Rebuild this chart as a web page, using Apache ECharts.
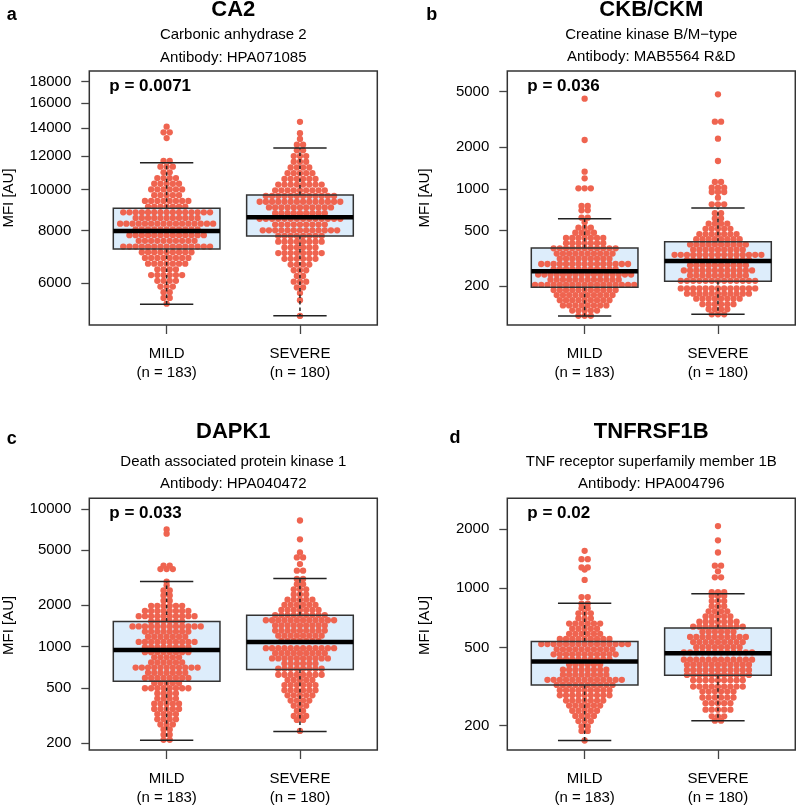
<!DOCTYPE html>
<html><head><meta charset="utf-8">
<script src="https://cdn.jsdelivr.net/npm/echarts@6/dist/echarts.min.js"></script>
<style>html,body{margin:0;padding:0;background:#fff}#c{width:796px;height:807px}</style>
</head><body><div id="c"></div>
<script>
// ---------- data ----------
const GROUPS = ['MILD', 'SEVERE'];
const GROUP_N = [183, 180];

// tick labels (MFI, AU)
const CA2_TICKS = [6000, 8000, 10000, 12000, 14000, 16000, 18000];
const CKB_TICKS = [200, 500, 1000, 2000, 5000];
const DAPK1_TICKS = [200, 500, 1000, 2000, 5000, 10000];
const TNF_TICKS = [200, 500, 1000, 2000];

// box stats: [lower whisker, Q1, median, Q3, upper whisker]
const CA2_BOX_MILD = [5354, 7234, 7980, 9030, 11576];
const CA2_BOX_SEVERE = [5030, 7767, 8600, 9710, 12545];
const CKB_BOX_MILD = [121.7, 196, 255, 375, 610];
const CKB_BOX_SEVERE = [125, 216, 303, 417, 728];
const DAPK1_BOX_MILD = [209, 559, 945, 1519, 2967];
const DAPK1_BOX_SEVERE = [241, 682, 1079, 1689, 3118];
const TNF_BOX_MILD = [168, 322, 424, 536, 838];
const TNF_BOX_SEVERE = [212, 361, 467, 627, 936];

// beeswarm rows: [value, number of points in the row]
const CA2_MILD = [[5370,1],[5540,2],[5715,2],[5895,3],[6082,4],[6274,6],[6472,4],[6677,7],[6888,8],[7106,9],
  [7330,15],[7562,10],[7801,13],[8048,11],[8302,16],[8564,11],[8835,15],
  [9114,7],[9402,8],[9699,5],[10006,6],[10322,5],[10648,4],[10985,2],[11332,3],[11690,2],[13240,1],[13659,2],[14091,1]];
const CA2_SEVERE = [[5022,1],[5470,1],[5688,1],[5868,2],[6053,3],[6245,2],[6442,3],[6646,4],[6856,6],[7073,8],[7296,6],[7527,8],
  [7765,8],[8010,13],[8264,9],[8525,14],[8794,9],[9072,11],[9359,14],[9655,12],
  [9960,9],[10275,8],[10600,6],[10935,5],[11280,4],[11637,3],[12005,3],[12384,2],[12776,2],[13180,1],[13596,1],[14469,1]];
const CKB_MILD = [[122,3],[133,5],[145,8],[158,9],[172,10],[187,11],
  [204,17],[222,12],[242,16],
  [264,11],[288,15],[314,9],[342,10],
  [373,11],[406,7],[443,7],[483,4],[526,3],[574,1],[620,2],[701,2],[753,2],[1009,3],[1191,1],[1329,1],[2246,1],[4453,1]];
const CKB_SEVERE = [[125,3],[136,4],[148,6],[162,8],[176,11],[192,13],
  [218,13],[238,10],[259,12],[282,10],
  [308,11],[335,15],[365,9],[398,10],
  [434,8],[473,7],[516,5],[562,4],[613,2],[668,2],[774,3],[864,1],[949,3],[1020,3],[1120,2],[1586,1],[2296,1],[3042,2],[4789,1]];
const DAPK1_MILD = [[210,2],[229,2],[250,2],[272,3],[297,4],[323,4],[352,5],[384,5],[419,4],[456,4],[498,8],[543,5],
  [592,8],[645,7],[703,11],[766,6],[835,5],[910,8],
  [992,8],[1081,10],[1178,7],[1284,8],[1400,12],
  [1526,6],[1663,10],[1813,8],[1976,6],[2154,2],[2348,2],[2559,2],[2790,1],[2967,1],[3656,3],[3866,2],[6607,1],[7096,1]];
const DAPK1_SEVERE = [[244,1],[293,2],[313,3],[341,2],[372,3],[405,4],[442,5],[482,6],[525,6],[572,5],[624,8],
  [690,8],[752,6],[820,10],[894,9],[974,12],
  [1100,7],[1199,8],[1307,9],[1424,9],[1553,12],
  [1693,9],[1845,7],[2011,6],[2192,5],[2390,3],[2605,3],[2839,2],[3095,2],[3560,2],[3972,1],[4439,2],[4823,1],[6012,1],[8237,1]];
const TNF_MILD = [[168,1],[188,2],[198,2],[211,3],[224,4],[238,5],[253,6],[268,7],[285,9],[303,9],
  [322,10],[342,13],[363,8],[385,8],[409,6],
  [434,9],[461,11],[489,10],[520,15],
  [552,9],[586,6],[622,5],[661,6],[702,3],[745,3],[791,2],[834,2],[901,2],[1102,1],[1245,1],[1276,2],[1405,2],[1549,1]];
const TNF_SEVERE = [[212,2],[223,3],[241,5],[260,5],[278,6],[298,6],[316,9],[340,9],
  [362,11],[384,11],[408,11],[433,12],
  [472,12],[501,8],[532,9],[565,10],[600,6],
  [637,9],[676,7],[718,5],[763,4],[810,3],[860,3],[913,3],[955,3],[1136,2],[1218,1],[1302,2],[1519,1],[1752,1],[2071,1]];

// ---------- panel setup ----------
const FONT = "'Liberation Sans', Arial, Helvetica, sans-serif";
const panels = [
  {letter:'a', title:'CA2', sub:'Carbonic anhydrase 2', ab:'Antibody: HPA071085', p:'p = 0.0071',
   ticks:CA2_TICKS, boxes:[CA2_BOX_MILD, CA2_BOX_SEVERE], rows:[CA2_MILD, CA2_SEVERE], yr:[4780, 19085],
   g:{left:89.3, top:71}, L:{lx:11.7, ly:15, ty:9.5, sy:35, ay:58.3, px:109.3, py:86, mx:8.5}},
  {letter:'b', title:'CKB/CKM', sub:'Creatine kinase B/M\u2212type', ab:'Antibody: MAB5564 R&D', p:'p = 0.036',
   ticks:CKB_TICKS, boxes:[CKB_BOX_MILD, CKB_BOX_SEVERE], rows:[CKB_MILD, CKB_SEVERE], yr:[104.8, 7046],
   g:{left:507.3, top:71}, L:{lx:431.7, ly:15, ty:10, sy:35, ay:57.3, px:527.3, py:86, mx:425}},
  {letter:'c', title:'DAPK1', sub:'Death associated protein kinase 1', ab:'Antibody: HPA040472', p:'p = 0.033',
   ticks:DAPK1_TICKS, boxes:[DAPK1_BOX_MILD, DAPK1_BOX_SEVERE], rows:[DAPK1_MILD, DAPK1_SEVERE], yr:[177.2, 11940],
   g:{left:89.3, top:498.3}, L:{lx:11.7, ly:439.3, ty:432.3, sy:461.7, ay:484, px:109.3, py:513.3, mx:8.5}},
  {letter:'d', title:'TNFRSF1B', sub:'TNF receptor superfamily member 1B', ab:'Antibody: HPA004796', p:'p = 0.02',
   ticks:TNF_TICKS, boxes:[TNF_BOX_MILD, TNF_BOX_SEVERE], rows:[TNF_MILD, TNF_SEVERE], yr:[150.3, 2866],
   g:{left:507.3, top:498.3}, L:{lx:455, ly:438.3, ty:431.7, sy:462.3, ay:484, px:527.3, py:513.3, mx:425}}
];
const GW = 288, GH = 254;
const XMIN = 0.42, XMAX = 2.58;
const DOT = 6.3;      // marker diameter, px
const STEP = 6.2;     // horizontal distance between points of one row, px
const lg = v => Math.log10(v);

const grids = [], xAxes = [], yAxes = [], series = [], graphics = [];
const xPxPerUnit = GW / (XMAX - XMIN);

panels.forEach((P, i) => {
  grids.push({left:P.g.left, top:P.g.top, width:GW, height:GH, show:true,
    borderColor:'#333', borderWidth:1.5, backgroundColor:'transparent', containLabel:false});
  const xt = GROUPS.map((g, k) => k + 1);
  xAxes.push({type:'value', gridIndex:i, min:XMIN, max:XMAX,
    axisLine:{show:false}, splitLine:{show:false},
    axisTick:{show:true, customValues:xt, length:9, inside:false, lineStyle:{color:'#444', width:1.3}},
    axisLabel:{show:true, customValues:xt, margin:20, color:'#000', fontFamily:FONT, fontSize:15, lineHeight:18.5,
      verticalAlign:'top',
      formatter: v => { const k = Math.round(v) - 1; return GROUPS[k] + '\n(n = ' + GROUP_N[k] + ')'; }}
  });
  const yt = P.ticks.map(lg);
  const ymin = lg(P.yr[0]), ymax = lg(P.yr[1]);
  yAxes.push({type:'value', gridIndex:i, min:ymin, max:ymax,
    axisLine:{show:false}, splitLine:{show:false},
    axisTick:{show:true, customValues:yt, length:8, inside:false, lineStyle:{color:'#444', width:1.3}},
    axisLabel:{show:true, customValues:yt, margin:18, color:'#000', fontFamily:FONT, fontSize:15,
      formatter: v => String(Math.round(Math.pow(10, v)))}
  });
  const boxData = P.boxes.map((b, k) => [k + 1].concat(b.map(lg)));
  series.push({type:'custom', xAxisIndex:i, yAxisIndex:i, z:1, silent:true, data:boxData,
    renderItem:(params, api) => {
      const x = api.value(0);
      const q1 = api.coord([x, api.value(2)]), q3 = api.coord([x, api.value(4)]);
      const hw = api.size([0.8, 0])[0] / 2;
      return {type:'rect', shape:{x:q1[0]-hw, y:q3[1], width:2*hw, height:q1[1]-q3[1]}, style:{fill:'#ddedfb'}};
    }});
  // beeswarm points: each row centred on its group position
  const pts = [];
  P.rows.forEach((rows, k) => {
    rows.forEach(([v, n]) => {
      for (let j = 0; j < n; j++) pts.push([k + 1 + (j - (n - 1) / 2) * STEP / xPxPerUnit, lg(v)]);
    });
  });
  series.push({type:'scatter', xAxisIndex:i, yAxisIndex:i, z:2, silent:true, data:pts,
    symbolSize:DOT, itemStyle:{color:'#ef6450', opacity:1}});
  series.push({type:'custom', xAxisIndex:i, yAxisIndex:i, z:3, silent:true, data:boxData,
    renderItem:(params, api) => {
      const x = api.value(0);
      const lo = api.coord([x, api.value(1)]), q1 = api.coord([x, api.value(2)]),
            md = api.coord([x, api.value(3)]), q3 = api.coord([x, api.value(4)]), hi = api.coord([x, api.value(5)]);
      const hw = api.size([0.8, 0])[0] / 2, cw = api.size([0.4, 0])[0] / 2;
      const cx = lo[0];
      const dash = {stroke:'#222', lineWidth:1.5, lineDash:[3.5, 3]};
      const solid = {stroke:'#222', lineWidth:1.5};
      return {type:'group', children:[
        {type:'line', shape:{x1:cx, y1:q3[1], x2:cx, y2:hi[1]}, style:dash},
        {type:'line', shape:{x1:cx, y1:q1[1], x2:cx, y2:lo[1]}, style:dash},
        {type:'line', shape:{x1:cx-cw, y1:hi[1], x2:cx+cw, y2:hi[1]}, style:solid},
        {type:'line', shape:{x1:cx-cw, y1:lo[1], x2:cx+cw, y2:lo[1]}, style:solid},
        {type:'rect', shape:{x:cx-hw, y:q3[1], width:2*hw, height:q1[1]-q3[1]}, style:{fill:null, stroke:'#333', lineWidth:1.5}},
        {type:'line', shape:{x1:cx-hw, y1:md[1], x2:cx+hw, y2:md[1]}, style:{stroke:'#000', lineWidth:4.5}}
      ]};
    }});
  // texts
  const cxT = P.g.left + GW / 2;
  graphics.push({type:'text', x:P.L.lx, y:P.L.ly, style:{text:P.letter, font:'bold 18px ' + FONT, fill:'#000', textAlign:'center', textVerticalAlign:'middle'}});
  graphics.push({type:'text', x:cxT, y:P.L.ty, style:{text:P.title, font:'bold 22px ' + FONT, fill:'#000', textAlign:'center', textVerticalAlign:'middle'}});
  graphics.push({type:'text', x:cxT, y:P.L.sy, style:{text:P.sub, font:'15px ' + FONT, fill:'#000', textAlign:'center', textVerticalAlign:'middle'}});
  graphics.push({type:'text', x:cxT, y:P.L.ay, style:{text:P.ab, font:'15px ' + FONT, fill:'#000', textAlign:'center', textVerticalAlign:'middle'}});
  graphics.push({type:'text', x:P.L.px, y:P.L.py, style:{text:P.p, font:'bold 17px ' + FONT, fill:'#000', textAlign:'left', textVerticalAlign:'middle'}});
  graphics.push({type:'text', x:P.L.mx, y:P.g.top + GH / 2, rotation:Math.PI / 2,
    style:{text:'MFI [AU]', font:'15px ' + FONT, fill:'#000', textAlign:'center', textVerticalAlign:'middle'}});
});

const chart = echarts.init(document.getElementById('c'), null, {renderer:'canvas'});
chart.setOption({
  animation:false,
  backgroundColor:'#fff',
  grid:grids, xAxis:xAxes, yAxis:yAxes, series:series, graphic:graphics
});
</script>
</body></html>
